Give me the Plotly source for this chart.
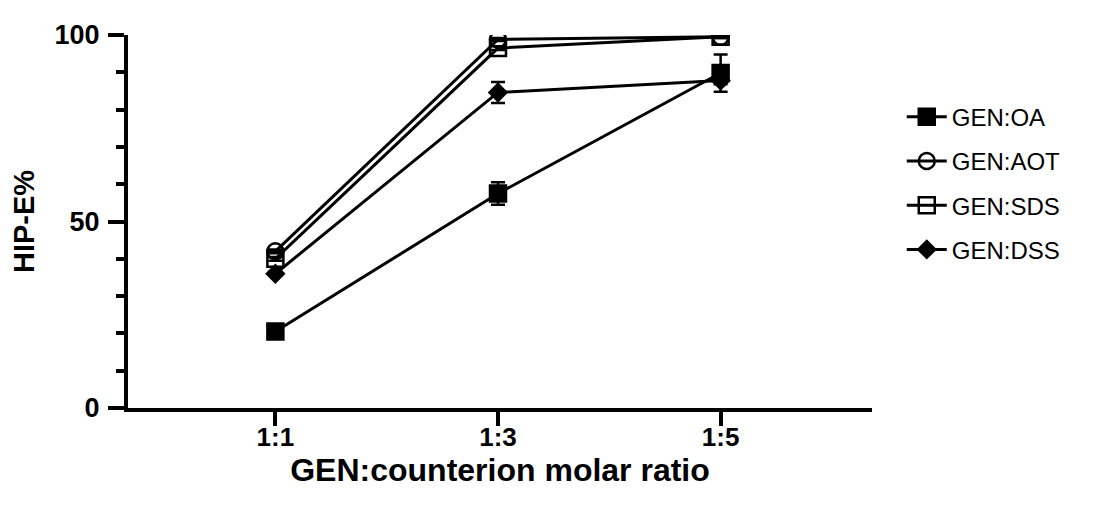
import plotly.graph_objects as go

categories = ["1:1", "1:3", "1:5"]
series_names = ["GEN:OA", "GEN:AOT", "GEN:SDS", "GEN:DSS"]
oa = [20.5, 57.5, 89.8]
oa_err = [0.8, 3.0, 5.0]
aot = [42.0, 98.8, 99.5]
aot_err = [0.5, 0.4, 0.3]
sds = [40.0, 96.5, 99.5]
sds_err = [0.5, 0.5, 0.3]
dss = [36.0, 84.6, 87.8]
dss_err = [0.5, 2.8, 1.0]

symbols = ["square", "circle-open", "square-open", "diamond"]
sizes = [16, 16, 16, 13]
values = [oa, aot, sds, dss]
errors = [oa_err, aot_err, sds_err, dss_err]

FONT = "Arial, Liberation Sans, sans-serif"

fig = go.Figure()
for i, name in enumerate(series_names):
    fig.add_trace(go.Scatter(
        x=categories, y=values[i], name=name, mode="lines+markers",
        line=dict(color="black", width=3),
        marker=dict(symbol=symbols[i], size=sizes[i], color="black",
                    line=dict(color="black", width=2.5)),
        error_y=dict(type="data", array=errors[i], visible=True,
                     color="black", thickness=2.5, width=7),
        legendgroup=name,
    ))

fig.update_layout(
    width=1101, height=510,
    margin=dict(l=117, r=237, t=17, b=110),
    plot_bgcolor="white", paper_bgcolor="white",
    font=dict(family=FONT, color="black"),
    legend=dict(x=1.04, y=0.84, xanchor="left", yanchor="top",
                font=dict(size=24, family=FONT, color="black"),
                tracegroupgap=10, itemwidth=40, bgcolor="rgba(0,0,0,0)"),
    xaxis=dict(
        type="category", range=[-0.662, 2.68],
        showline=True, linecolor="black", linewidth=4,
        ticks="outside", ticklen=14, tickwidth=3.5, tickcolor="black",
        tickfont=dict(size=26, family=FONT, weight="bold"),
        ticklabelstandoff=-11,
        showgrid=False, zeroline=False,
        title=dict(text="GEN:counterion molar ratio",
                   font=dict(size=32, family=FONT, weight="bold"), standoff=8),
    ),
    yaxis=dict(
        range=[0, 100], dtick=50, tick0=0,
        showline=True, linecolor="black", linewidth=4,
        ticks="outside", ticklen=16, tickwidth=3.5, tickcolor="black",
        minor=dict(dtick=10, ticks="outside", ticklen=8, tickwidth=3.5, tickcolor="black"),
        tickfont=dict(size=27, family=FONT, weight="bold"),
        ticklabelstandoff=3,
        showgrid=False, zeroline=False,
        title=dict(text="HIP-E%", font=dict(size=29, family=FONT, weight="bold"), standoff=14),
    ),
)

fig.write_html("out.html")
